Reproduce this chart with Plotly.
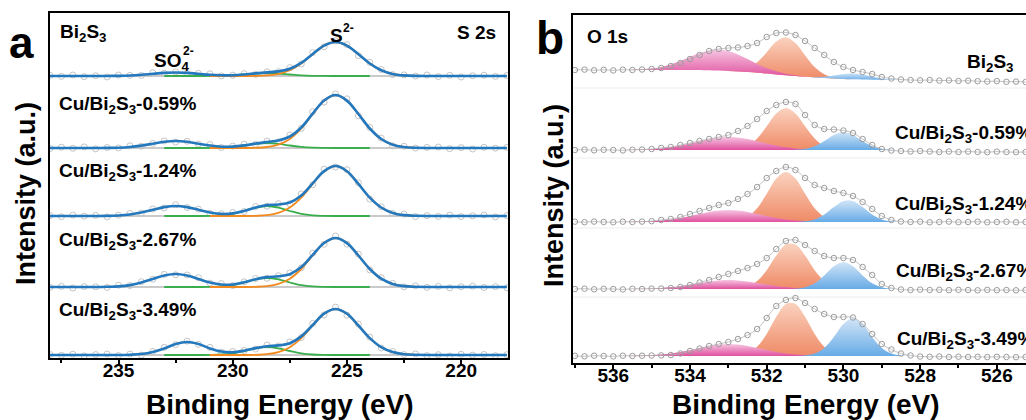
import plotly.graph_objects as go

W, H = 1026, 420
FONT = "Liberation Sans"

SAMPLE_LABELS = ["Bi<sub>2</sub>S<sub>3</sub>",
                 "Cu/Bi<sub>2</sub>S<sub>3</sub>-0.59%",
                 "Cu/Bi<sub>2</sub>S<sub>3</sub>-1.24%",
                 "Cu/Bi<sub>2</sub>S<sub>3</sub>-2.67%",
                 "Cu/Bi<sub>2</sub>S<sub>3</sub>-3.49%"]

# ---------------- Panel a : S 2s ----------------
EA = [238.0, 237.5, 237.0, 236.5, 236.0, 235.5, 235.0, 234.5, 234.0, 233.5, 233.0,
      232.5, 232.0, 231.5, 231.0, 230.5, 230.0, 229.5, 229.0, 228.5, 228.0, 227.5,
      227.0, 226.5, 226.0, 225.5, 225.0, 224.5, 224.0, 223.5, 223.0, 222.5, 222.0,
      221.5, 221.0, 220.5, 220.0, 219.5, 219.0, 218.5, 218.0]
EA_ORANGE = [231.0, 230.5, 230.0, 229.5, 229.0, 228.5, 228.0, 227.5, 227.0, 226.5, 226.0,
             225.5, 225.0, 224.5, 224.0, 223.5, 223.0, 222.5, 222.0, 221.5, 221.0]
EA_GREEN = [233.0, 232.5, 232.0, 231.5, 231.0, 230.5, 230.0, 229.5, 229.0, 228.5, 228.0,
            227.5, 227.0, 226.5, 226.0, 225.5, 225.0, 224.5, 224.0]

OFFSET_A = [282, 210, 142, 71, 3]

ENV_A_BI2S3 = [0, 0, 0, 0, 0, .05, .17, .5, 1.2, 2.2, 3.1, 3.5, 3.1, 2.2, 1.2, .7, .8, 1.55, 2.6, 3.6, 4.6,
               7.2, 13.1, 22.0, 30.4, 34, 30.4, 21.8, 12.5, 5.7, 2.1, .6, .1, 0, 0, 0, 0, 0, 0, 0, 0]
ENV_A_059 = [0, 0, 0, 0, 0, .1, .3, 1.0, 2.4, 4.3, 6.2, 7.0, 6.2, 4.3, 2.5, 1.3, 1.4, 2.6, 4.4, 6.0, 7.5,
             11.5, 20.5, 34.3, 47.5, 53, 47.4, 34.0, 19.5, 9.0, 3.3, 1.0, .2, 0, 0, 0, 0, 0, 0, 0, 0]
ENV_A_124 = [0, 0, 0, 0, 0, .1, .5, 1.5, 3.4, 6.2, 8.9, 10, 8.9, 6.2, 3.5, 2.1, 2.6, 5.1, 8.6, 10.9, 11.5,
             13.5, 20.5, 32.7, 44.9, 50, 44.8, 32.1, 18.4, 8.5, 3.1, .9, .2, 0, 0, 0, 0, 0, 0, 0, 0]
ENV_A_267 = [0, 0, 0, 0, 0, .2, .6, 1.9, 4.4, 8.0, 11.5, 13, 11.5, 8.0, 4.5, 2.5, 2.5, 4.7, 7.8, 9.9, 10.7,
             12.8, 19.9, 32.1, 44.0, 49, 43.9, 31.5, 18.0, 8.3, 3.1, .9, .2, 0, 0, 0, 0, 0, 0, 0, 0]
ENV_A_349 = [0, 0, 0, 0, 0, 0, 0, .3, 1.0, 3.0, 6.5, 11, 13, 11, 6.6, 3.5, 2.7, 4.3, 6.9, 8.8, 9.6,
             11.8, 18.6, 30.0, 41.3, 46, 41.2, 29.5, 16.9, 7.8, 2.9, .8, .2, 0, 0, 0, 0, 0, 0, 0, 0]

RAW_A_BI2S3 = [.6, -.4, 1.0, -.7, .3, -.95, .97, .7, .6, 3.3, 2.8, 4.2, 2.2, 2.6, 2.2, .1, .8, 2.35, 1.6, 4.1,
               4.3, 8.4, 12.1, 23.5, 29.2, 35.3, 31.4, 20.3, 13.7, 6.5, 1.4, 1.1, -.1, 1.0, -.6, .7, -1.0,
               .3, .8, -.4, .5]
RAW_A_059 = [-.5, .8, -.3, 1.1, -.9, .5, .1, 2.2, 1.8, 4.6, 7.1, 5.9, 6.8, 3.9, 3.5, .5, 1.9, 3.8, 3.7, 6.9,
             6.2, 13.0, 19.6, 36.3, 46.0, 54.2, 49.2, 32.2, 20.5, 9.9, 2.1, 1.8, -.1, .6, 1.0, -.7, .4,
             -1.0, .7, -.2, .6]
RAW_A_124 = [.4, -.7, .9, -.2, .6, -.9, .8, 2.6, 2.9, 7.0, 8.0, 11.3, 8.5, 6.9, 2.7, 2.3, 3.6, 4.5, 9.5, 9.8,
             12.3, 12.3, 22.1, 31.3, 46.8, 49.0, 46.3, 33.3, 16.8, 9.2, 2.6, 1.9, -.6, .3, -.4, .9, -.6,
             .2, 1.0, -.9, .4]
RAW_A_267 = [-.3, .6, -1.0, .5, .2, -.5, 1.8, 1.5, 5.3, 7.8, 12.6, 12.2, 12.0, 9.3, 3.9, 3.4, 1.5, 5.1, 8.5,
             8.7, 11.3, 14.2, 19.1, 33.8, 42.7, 51.0, 42.8, 32.9, 17.1, 9.4, 3.6, .2, 1.2, -.4, .6, -.9,
             .3, .8, -.5, .4, -.8]
RAW_A_349 = [.5, -.3, .8, -.9, .4, 1.0, -.5, 1.0, -.1, 3.6, 7.7, 10.4, 13.9, 10.7, 7.7, 2.8, 3.5, 4.6, 5.9,
             10.0, 9.0, 13.1, 17.5, 31.6, 40.1, 47.8, 39.8, 31.0, 17.9, 7.0, 3.5, .4, 1.1, -.6, .3, -1.0,
             .7, -.2, .5, -.7, .3]

ORANGE_A_BI2S3 = [0, 0, 0, 0, .1, .6, 2.1, 5.7, 12.5, 21.8, 30.4, 34, 30.4, 21.8, 12.5, 5.7, 2.1, .6, .1, 0, 0]
ORANGE_A_059 = [0, 0, 0, 0, .2, 1.0, 3.3, 9.0, 19.5, 34.0, 47.4, 53, 47.4, 34.0, 19.5, 9.0, 3.3, 1.0, .2, 0, 0]
ORANGE_A_124 = [0, 0, 0, 0, .2, .9, 3.1, 8.5, 18.4, 32.1, 44.8, 50, 44.8, 32.1, 18.4, 8.5, 3.1, .9, .2, 0, 0]
ORANGE_A_267 = [0, 0, 0, 0, .2, .9, 3.1, 8.3, 18.0, 31.5, 43.9, 49, 43.9, 31.5, 18.0, 8.3, 3.1, .9, .2, 0, 0]
ORANGE_A_349 = [0, 0, 0, 0, .2, .8, 2.9, 7.8, 16.9, 29.5, 41.2, 46, 41.2, 29.5, 16.9, 7.8, 2.9, .8, .2, 0, 0]

GREEN_A_BI2S3 = [0, 0, 0, 0, .04, .19, .63, 1.5, 2.5, 3, 2.5, 1.5, .63, .19, .04, 0, 0, 0, 0]
GREEN_A_059 = [0, 0, 0, 0, .07, .3, 1.05, 2.5, 4.2, 5, 4.2, 2.5, 1.05, .3, .07, 0, 0, 0, 0]
GREEN_A_124 = [0, 0, 0, 0, .13, .6, 2.1, 5, 8.4, 10, 8.4, 5, 2.1, .6, .13, 0, 0, 0, 0]
GREEN_A_267 = [0, 0, 0, 0, .12, .56, 1.9, 4.5, 7.6, 9, 7.6, 4.5, 1.9, .56, .12, 0, 0, 0, 0]
GREEN_A_349 = [0, 0, 0, 0, .1, .5, 1.7, 4, 6.7, 8, 6.7, 4, 1.7, .5, .1, 0, 0, 0, 0]

ENV_A = [ENV_A_BI2S3, ENV_A_059, ENV_A_124, ENV_A_267, ENV_A_349]
RAW_A = [RAW_A_BI2S3, RAW_A_059, RAW_A_124, RAW_A_267, RAW_A_349]
ORANGE_A = [ORANGE_A_BI2S3, ORANGE_A_059, ORANGE_A_124, ORANGE_A_267, ORANGE_A_349]
GREEN_A = [GREEN_A_BI2S3, GREEN_A_059, GREEN_A_124, GREEN_A_267, GREEN_A_349]

# ---------------- Panel b : O 1s ----------------
EB = [537.0, 536.75, 536.5, 536.25, 536.0, 535.75, 535.5, 535.25, 535.0, 534.75, 534.5, 534.25,
      534.0, 533.75, 533.5, 533.25, 533.0, 532.75, 532.5, 532.25, 532.0, 531.75, 531.5, 531.25,
      531.0, 530.75, 530.5, 530.25, 530.0, 529.75, 529.5, 529.25, 529.0, 528.75, 528.5, 528.25,
      528.0, 527.75, 527.5, 527.25, 527.0, 526.75, 526.5, 526.25, 526.0, 525.75, 525.5, 525.25]

OFFSET_B = [293, 213, 141, 74, 7]
SEPARATORS_B = [275, 205, 135, 66]

RAW_B_BI2S3 = [0, .4, -.3, .2, -.4, .3, 0, .5, 1, 2, 4, 7, 11, 15, 19, 21, 22, 22.5, 24, 27, 33, 37, 37.5, 35,
               29, 22, 15, 8, 3, 0, -2, -4, -7, -8.5, -9.5, -10, -10.3, -10, -10.6, -10.4, -11, -10.7,
               -11.2, -11.5, -11.1, -11.8, -11.6, -12]
RAW_B_059 = [0, .4, -.3, .2, 0, -.4, .3, .5, 1, 2, 3, 5, 7, 9, 11, 13, 15, 19, 24, 31, 39, 45, 48, 46,
             35, 25, 21, 20.5, 19.5, 17, 11, 5, 1, -.5, -1, -1.5, -1, -1.5, -2, -1.5, -2, -1.6, -2, -2.2,
             -1.6, -2, -2.2, -2]
RAW_B_124 = [.3, -.2, .4, 0, -.3, .3, 0, .4, .8, 2, 3, 5, 8, 11, 14, 17, 19, 23, 28, 35, 44, 51, 55, 52,
             44, 37, 34, 31, 29, 26, 20, 13, 6, 2, .5, 0, .3, -.3, 0, .4, -.2, 0, .3, -.3, 0, .2, -.3, 0]
RAW_B_267 = [0, .3, -.3, .2, 0, -.4, .2, 0, .4, .5, 1, 2, 4, 6.5, 9, 12, 15, 18, 21, 25, 31, 40, 48, 49,
             44, 38, 33, 31, 31, 29, 22, 14, 5, 1, -.5, -1, -.6, -1, -.8, -1.2, -.8, -1, -1.3, -.9, -1.2,
             -1, -1.3, -1]
RAW_B_349 = [.2, -.3, .3, 0, -.4, .3, 0, .3, .5, .6, 1, 2.5, 5, 7.5, 10, 12, 14, 17, 21, 27, 38, 50, 56,
             58, 53, 47, 42, 39, 39, 38.5, 32, 22, 12, 6.5, 2.5, .5, -.5, -.8, -.5, -1, -.7, -1, -.8,
             -1.1, -.8, -1, -1.2, -1]

BG_B_BI2S3 = [0] * 14 + [-.3, -.6, -1.0, -1.5, -2.1, -2.8, -3.6, -4.4, -5.2, -6.0, -6.8, -7.5, -8.1,
                         -8.6, -9.0, -9.3, -9.5, -9.7, -9.8, -10, -10, -10.2, -10.3, -10.5, -10.6,
                         -10.8, -10.9, -11, -11.2, -11.3, -11.5, -11.6, -11.8, -12]
BG_B_FLAT = [0] * 48

PINK_B_BI2S3 = [0] * 6 + [.3, .7, 1.5, 3.1, 5.5, 8.9, 13.0, 16.9, 19.9, 21, 19.9, 16.9, 13.0, 8.9, 5.5,
                          3.1, 1.5, .7, .3] + [0] * 23
ORANGE_B_BI2S3 = [0] * 16 + [.2, 1.1, 3.8, 10.5, 21.4, 32.9, 38, 32.9, 21.4, 10.5, 3.8, 1.1, .2] + [0] * 19
BLUE_B_BI2S3 = [0] * 24 + [.1, .4, 1.3, 3.0, 5.0, 6, 5.0, 3.0, 1.3, .4, .1] + [0] * 13

PINK_B_059 = [0] * 6 + [.2, .4, .8, 1.6, 2.7, 4.4, 6.5, 8.8, 10.9, 12.5, 13, 12.5, 10.9, 8.8, 6.5, 4.4,
                        2.7, 1.6, .8, .4, .2] + [0] * 21
ORANGE_B_059 = [0] * 16 + [.25, 1.2, 4.2, 11.6, 23.7, 36.4, 42, 36.4, 23.7, 11.6, 4.2, 1.2, .25] + [0] * 19
BLUE_B_059 = [0] * 23 + [.2, 1.1, 3.8, 9, 15.1, 18, 15.1, 9, 3.8, 1.1, .2] + [0] * 14

PINK_B_124 = [0] * 6 + [.2, .4, .75, 1.4, 2.5, 4.1, 6.0, 8.1, 10.1, 11.5, 12, 11.5, 10.1, 8.1, 6.0, 4.1,
                        2.5, 1.4, .75, .4, .2] + [0] * 21
ORANGE_B_124 = [0] * 16 + [.3, 1.4, 5.1, 13.8, 28.2, 43.4, 50, 43.4, 28.2, 13.8, 5.1, 1.4, .3] + [0] * 19
BLUE_B_124 = [0] * 23 + [.1, .7, 2.6, 7.5, 14.9, 21.1, 21.1, 14.9, 7.5, 2.6, .7, .1] + [0] * 13

PINK_B_267 = [0] * 6 + [.1, .3, .6, 1.1, 1.9, 3.1, 4.5, 6.1, 7.6, 8.6, 9, 8.6, 7.6, 6.1, 4.5, 3.1, 1.9,
                        1.1, .6, .3, .1] + [0] * 21
ORANGE_B_267 = [0] * 17 + [.6, 2.5, 8.0, 18.8, 33.4, 44.4, 44.4, 33.4, 18.8, 8.0, 2.5, .6] + [0] * 19
BLUE_B_267 = [0] * 23 + [.35, 1.7, 5.7, 13.5, 22.7, 27, 22.7, 13.5, 5.7, 1.7, .35] + [0] * 14

PINK_B_349 = [0] * 6 + [.2, .4, .75, 1.4, 2.5, 4.1, 6.0, 8.1, 10.1, 11.5, 12, 11.5, 10.1, 8.1, 6.0, 4.1,
                        2.5, 1.4, .75, .4, .2] + [0] * 21
ORANGE_B_349 = [0] * 17 + [.7, 3.0, 9.3, 22.1, 39.2, 52.1, 52.1, 39.2, 22.1, 9.3, 3.0, .7] + [0] * 19
BLUE_B_349 = [0] * 24 + [.5, 2.4, 8, 19, 32, 38, 32, 19, 8, 2.4, .5] + [0] * 13

RAW_B = [RAW_B_BI2S3, RAW_B_059, RAW_B_124, RAW_B_267, RAW_B_349]
BG_B = [BG_B_BI2S3, BG_B_FLAT, BG_B_FLAT, BG_B_FLAT, BG_B_FLAT]
PINK_B = [PINK_B_BI2S3, PINK_B_059, PINK_B_124, PINK_B_267, PINK_B_349]
ORANGE_B = [ORANGE_B_BI2S3, ORANGE_B_059, ORANGE_B_124, ORANGE_B_267, ORANGE_B_349]
BLUE_B = [BLUE_B_BI2S3, BLUE_B_059, BLUE_B_124, BLUE_B_267, BLUE_B_349]

# ---------------- styles ----------------
C_ENV = "#2478bd"
C_ORANGE = "#f28a1e"
C_GREEN = "#3aae4c"
C_BASE = "#b8b8b8"
C_RAW_A = "#c4c4c4"
C_RAW_B = "#9c9c9c"
GRAD_ORANGE = [[0, "#ef8a66"], [1, "#fad2bf"]]
GRAD_PINK = [[0, "#e0509e"], [1, "#f6c6e2"]]
GRAD_BLUE = [[0, "#67abe6"], [1, "#d2e5f7"]]

fig = go.Figure()

# panel a traces
for k in range(5):
    off = OFFSET_A[k]
    fig.add_trace(go.Scatter(x=[EA[0], EA[-1]], y=[off, off], mode="lines",
                             line=dict(color=C_BASE, width=1.5), xaxis="x", yaxis="y", hoverinfo="skip"))
    fig.add_trace(go.Scatter(x=EA, y=[off + v for v in RAW_A[k]], mode="markers",
                             marker=dict(symbol="circle-open", size=6, color=C_RAW_A, line=dict(width=1)),
                             xaxis="x", yaxis="y", hoverinfo="skip"))
    fig.add_trace(go.Scatter(x=EA_GREEN, y=[off + v for v in GREEN_A[k]], mode="lines",
                             line=dict(color=C_GREEN, width=1.8, shape="spline"),
                             xaxis="x", yaxis="y", hoverinfo="skip"))
    fig.add_trace(go.Scatter(x=EA_ORANGE, y=[off + v for v in ORANGE_A[k]], mode="lines",
                             line=dict(color=C_ORANGE, width=1.8, shape="spline"),
                             xaxis="x", yaxis="y", hoverinfo="skip"))
    fig.add_trace(go.Scatter(x=EA, y=[off + v for v in ENV_A[k]], mode="lines",
                             line=dict(color=C_ENV, width=2.6, shape="spline"),
                             xaxis="x", yaxis="y", hoverinfo="skip"))


def add_fill(comp, bg, off, grad):
    idx = [i for i, v in enumerate(comp) if v > 0]
    lo, hi = max(idx[0] - 1, 0), min(idx[-1] + 1, len(comp) - 1)
    xs = EB[lo:hi + 1]
    base = [off + bg[i] for i in range(lo, hi + 1)]
    top = [off + bg[i] + comp[i] for i in range(lo, hi + 1)]
    fig.add_trace(go.Scatter(x=xs, y=base, mode="lines", line=dict(width=0, shape="spline"),
                             xaxis="x2", yaxis="y2", hoverinfo="skip"))
    fig.add_trace(go.Scatter(x=xs, y=top, mode="lines", line=dict(width=0, shape="spline"),
                             fill="tonexty", fillgradient=dict(type="vertical", colorscale=grad),
                             xaxis="x2", yaxis="y2", hoverinfo="skip"))


for k in range(5):
    off = OFFSET_B[k]
    add_fill(ORANGE_B[k], BG_B[k], off, GRAD_ORANGE)
    add_fill(PINK_B[k], BG_B[k], off, GRAD_PINK)
    add_fill(BLUE_B[k], BG_B[k], off, GRAD_BLUE)
    fig.add_trace(go.Scatter(x=EB, y=[off + v for v in RAW_B[k]], mode="lines+markers",
                             line=dict(color="#b4b4b4", width=0.8, shape="spline"),
                             marker=dict(symbol="circle-open", size=5.5, color=C_RAW_B, line=dict(width=1)),
                             xaxis="x2", yaxis="y2", hoverinfo="skip"))

shapes = []
for s in SEPARATORS_B:
    shapes.append(dict(type="line", xref="x2 domain", yref="y2", x0=0, x1=1, y0=s, y1=s,
                       line=dict(color="#ececec", width=1), layer="below"))


def ann(text, px, py, size, xanchor="left", angle=0):
    return dict(text=text, x=px / W, y=1 - py / H, xref="paper", yref="paper",
                xanchor=xanchor, yanchor="middle", showarrow=False, textangle=angle,
                font=dict(family=FONT, size=size, color="black", weight="bold"))


annotations = [
    ann("a", 21, 43, 44, "center"),
    ann("b", 550, 38, 46, "center"),
    ann("Intensity (a.u.)", 26, 194, 27, "center", -90),
    ann("Intensity (a.u.)", 554, 196, 27, "center", -90),
    ann("Binding Energy (eV)", 280, 404, 28, "center"),
    ann("Binding Energy (eV)", 806, 404, 28, "center"),
    ann(SAMPLE_LABELS[0], 58, 33, 19),
    ann("SO<sub>4</sub>", 152, 62, 19),
    ann("2-", 181, 51, 12),
    ann("S", 328, 35, 19),
    ann("2-", 341, 28, 12),
    ann("S 2s", 498, 33, 19, "right"),
    ann(SAMPLE_LABELS[1], 57, 105, 19),
    ann(SAMPLE_LABELS[2], 57, 172, 19),
    ann(SAMPLE_LABELS[3], 57, 241, 19),
    ann(SAMPLE_LABELS[4], 57, 311, 19),
    ann("O 1s", 585, 36, 19),
    ann(SAMPLE_LABELS[0], 965, 63, 19),
    ann(SAMPLE_LABELS[1], 893, 134, 19),
    ann(SAMPLE_LABELS[2], 893, 205, 19),
    ann(SAMPLE_LABELS[3], 894, 272, 19),
    ann(SAMPLE_LABELS[4], 895, 340, 19),
]

tickfont = dict(family=FONT, size=19, color="black", weight="bold")
common_x = dict(ticks="outside", ticklen=5, tickwidth=2, tickcolor="black", showline=True,
                linewidth=2, linecolor="black", mirror=True, showgrid=False, zeroline=False,
                tickfont=tickfont, tickmode="linear", tick0=0, ticklabelstandoff=-11)
common_y = dict(showline=True, linewidth=2, linecolor="black", showticklabels=False, ticks="",
                showgrid=False, zeroline=False)

fig.update_layout(
    width=W, height=H, margin=dict(l=0, r=0, t=0, b=0), showlegend=False,
    plot_bgcolor="white", paper_bgcolor="white",
    xaxis=dict(domain=[50 / W, 508 / W], range=[238.0, 217.95], anchor="y", dtick=5,
               minor=dict(ticks="outside", ticklen=3, tickwidth=1.5, tickcolor="black", dtick=2.5, tick0=0),
               **common_x),
    yaxis=dict(domain=[1 - 358 / H, 1 - 13 / H], range=[0, 345], anchor="x", mirror=True, **common_y),
    xaxis2=dict(domain=[573 / W, 1.0], range=[537.05, 525.24], anchor="y2", dtick=2,
                minor=dict(ticks="outside", ticklen=3, tickwidth=1.5, tickcolor="black", dtick=1, tick0=0),
                **common_x),
    yaxis2=dict(domain=[1 - 363 / H, 1 - 15 / H], range=[0, 348], anchor="x2", mirror=False, **common_y),
    shapes=shapes,
    annotations=annotations,
)

fig.write_html("out.html")
